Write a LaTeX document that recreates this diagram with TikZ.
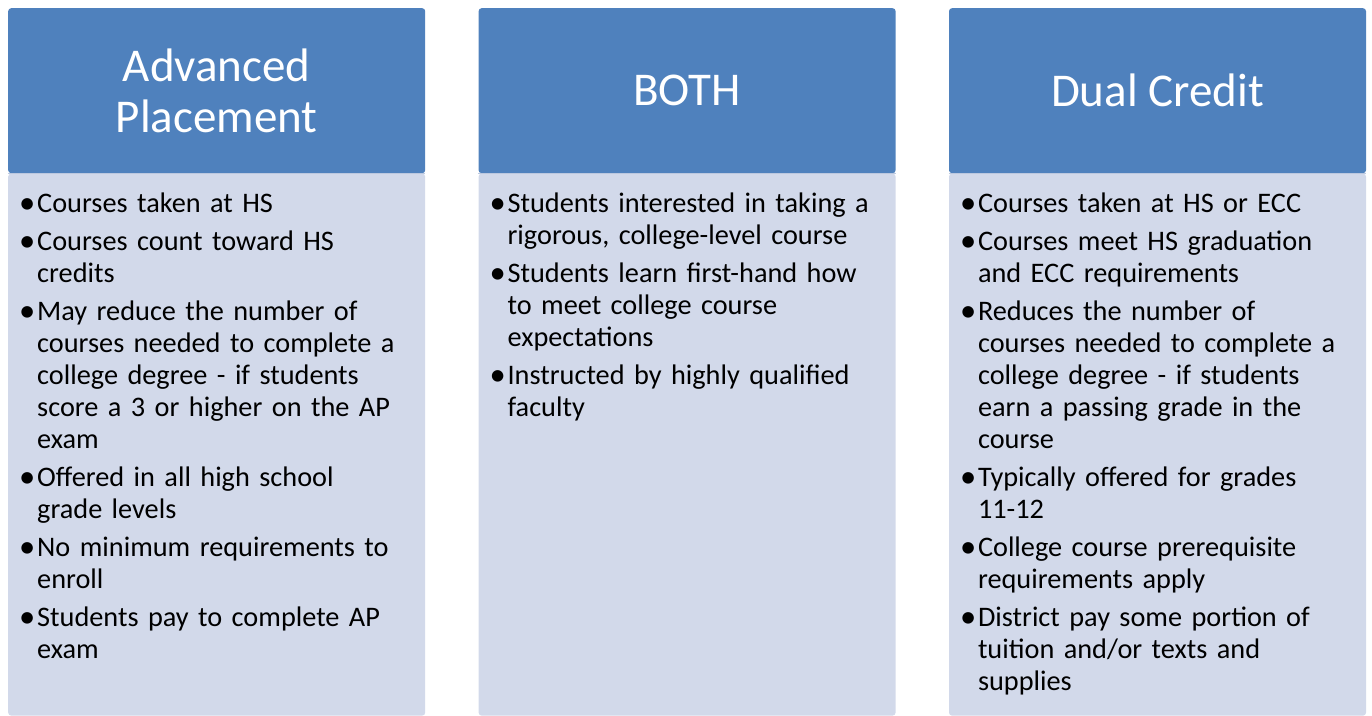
\documentclass[tikz,border=0pt]{standalone}
\usepackage{fontspec}
\setmainfont{Carlito}
\usetikzlibrary{positioning}

\definecolor{headblue}{HTML}{4F81BD}
\definecolor{bodyblue}{HTML}{D2D9EA}
\definecolor{edgeblue}{HTML}{BCC8DF}

\newcommand{\bul}{\llap{\raisebox{-0.5pt}{\scalebox{1.15}{•}}\kern1.8pt}}

\begin{document}
\begin{tikzpicture}[
    x=1pt, y=-1pt,
    head/.style={rectangle, fill=headblue, text=white, minimum width=417pt, minimum height=165pt, align=center, rounded corners=3pt, inner sep=0pt, font=\fontsize{47}{51}\selectfont},
    body/.style={rectangle, fill=bodyblue, minimum width=417pt, minimum height=542pt, inner sep=0pt, rounded corners=3pt},
    item/.style={inner sep=0pt, text width=385pt, align=left, anchor=north west, font=\fontsize{28.3}{32}\selectfont},
]
    \useasboundingbox (0,0) rectangle (1372,715);

    % Column headers
    \node[head, anchor=north west] (aphead) at (8,8) {Advanced\\Placement};
    \node[head, right=53pt of aphead] (bothhead) {BOTH};
    \node[head, right=53pt of bothhead] (dchead) {Dual Credit};

    % Column bodies
    \node[body, below=0pt of aphead] (apbody) {};
    \node[body, below=0pt of bothhead] (bothbody) {};
    \node[body, below=0pt of dchead] (dcbody) {};
    \draw[edgeblue, line width=1.5pt] (apbody.north west) -- (apbody.north east);
    \draw[edgeblue, line width=1.5pt] (bothbody.north west) -- (bothbody.north east);
    \draw[edgeblue, line width=1.5pt] (dcbody.north west) -- (dcbody.north east);

    % Advanced Placement items
    \node[item] (ap1) at ([shift={(29pt,-16.6pt)}]apbody.north west) {\strut\bul Courses taken at HS\strut};
    \node[item, below=5.6pt of ap1.south west, anchor=north west] (ap2) {\strut\bul Courses count toward HS\\credits\strut};
    \node[item, below=5.6pt of ap2.south west, anchor=north west] (ap3) {\strut\bul May reduce the number of\\courses needed to complete a\\college degree - if students\\score a 3 or higher on the AP\\exam\strut};
    \node[item, below=5.6pt of ap3.south west, anchor=north west] (ap4) {\strut\bul Offered in all high school\\grade levels\strut};
    \node[item, below=5.6pt of ap4.south west, anchor=north west] (ap5) {\strut\bul No minimum requirements to\\enroll\strut};
    \node[item, below=5.6pt of ap5.south west, anchor=north west] (ap6) {\strut\bul Students pay to complete AP\\exam\strut};

    % BOTH items
    \node[item] (both1) at ([shift={(29pt,-16.6pt)}]bothbody.north west) {\strut\bul Students interested in taking a\\rigorous, college-level course\strut};
    \node[item, below=5.6pt of both1.south west, anchor=north west] (both2) {\strut\bul Students learn first-hand how\\to meet college course\\expectations\strut};
    \node[item, below=5.6pt of both2.south west, anchor=north west] (both3) {\strut\bul Instructed by highly qualified\\faculty\strut};

    % Dual Credit items
    \node[item] (dc1) at ([shift={(29pt,-16.6pt)}]dcbody.north west) {\strut\bul Courses taken at HS or ECC\strut};
    \node[item, below=5.6pt of dc1.south west, anchor=north west] (dc2) {\strut\bul Courses meet HS graduation\\and ECC requirements\strut};
    \node[item, below=5.6pt of dc2.south west, anchor=north west] (dc3) {\strut\bul Reduces the number of\\courses needed to complete a\\college degree - if students\\earn a passing grade in the\\course\strut};
    \node[item, below=5.6pt of dc3.south west, anchor=north west] (dc4) {\strut\bul Typically offered for grades\\11-12\strut};
    \node[item, below=5.6pt of dc4.south west, anchor=north west] (dc5) {\strut\bul College course prerequisite\\requirements apply\strut};
    \node[item, below=5.6pt of dc5.south west, anchor=north west] (dc6) {\strut\bul District pay some portion of\\tuition and/or texts and\\supplies\strut};

\end{tikzpicture}
\end{document}
